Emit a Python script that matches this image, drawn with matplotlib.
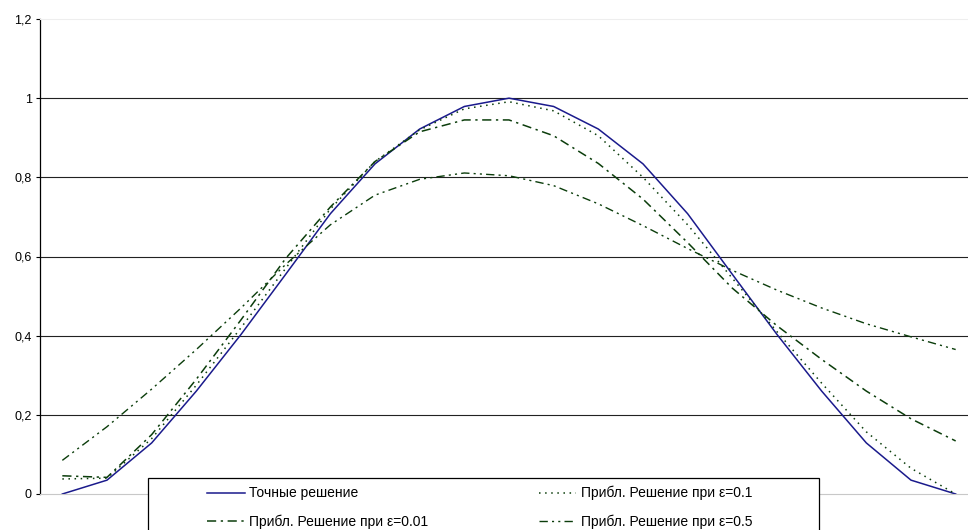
import matplotlib
matplotlib.use("Agg")
import matplotlib.pyplot as plt
from matplotlib.patches import Rectangle

plt.rcParams['font.family'] = ['Liberation Sans', 'DejaVu Sans']

# ---- data ----
x_points = list(range(21))
exact = [0.0, 0.035, 0.129, 0.26, 0.403, 0.555, 0.708, 0.834, 0.922, 0.979, 1.0,
         0.979, 0.922, 0.834, 0.708, 0.555, 0.403, 0.26, 0.129, 0.035, 0.0]
eps_0_1 = [0.038, 0.040, 0.14, 0.275, 0.42, 0.57, 0.72, 0.84, 0.92, 0.973, 0.991,
           0.968, 0.905, 0.80, 0.68, 0.545, 0.41, 0.28, 0.157, 0.065, 0.0]
eps_0_01 = [0.046, 0.042, 0.15, 0.29, 0.44, 0.595, 0.725, 0.84, 0.915, 0.945, 0.945,
            0.905, 0.835, 0.745, 0.635, 0.52, 0.425, 0.34, 0.26, 0.19, 0.134]
eps_0_5 = [0.085, 0.17, 0.265, 0.365, 0.47, 0.58, 0.68, 0.755, 0.795, 0.811, 0.804,
           0.779, 0.733, 0.678, 0.62, 0.565, 0.515, 0.47, 0.43, 0.397, 0.365]

labels = ["Точные решение", "Прибл. Решение при ε=0.1",
          "Прибл. Решение при ε=0.01", "Прибл. Решение при ε=0.5"]
y_ticks = [0, 0.2, 0.4, 0.6, 0.8, 1.0, 1.2]
y_tick_labels = ["0", "0,2", "0,4", "0,6", "0,8", "1", "1,2"]

W, H = 968, 530
fig = plt.figure(figsize=(W / 100, H / 100), dpi=100)
left, right, bottom, top = 40, 978, 494, 19
ax = fig.add_axes([left / W, 1 - bottom / H, (right - left) / W, (bottom - top) / H])

green = '#0b3d0b'
l_exact, = ax.plot(x_points, exact, color='#1a1a8c', lw=1.1, label=labels[0])
l_01, = ax.plot(x_points, eps_0_1, color=green, lw=1.1, ls=(0, (1, 3)), label=labels[1])
l_001, = ax.plot(x_points, eps_0_01, color=green, lw=1.1, ls=(0, (6, 3, 1.5, 3)), label=labels[2])
l_05, = ax.plot(x_points, eps_0_5, color=green, lw=1.0, ls=(0, (6, 3, 1.5, 3, 1.5, 3)), label=labels[3])

ax.set_xlim(-0.5, 20.5)
ax.set_ylim(0, 1.2)
ax.set_yticks(y_ticks)
ax.set_yticklabels(y_tick_labels, fontsize=9)
ax.set_xticks([])
for yv in y_ticks[1:-1]:
    ax.axhline(yv, color='#222222', lw=0.8, zorder=0)

ax.spines['right'].set_visible(False)
ax.spines['top'].set_color('#eeeeee')
ax.spines['bottom'].set_color('#c8c8c8')
ax.spines['left'].set_color('black')
ax.spines['left'].set_linewidth(0.9)
ax.tick_params(axis='y', direction='out', length=3, width=0.8, pad=3, colors='black')

# legend frame
fig.patches.append(Rectangle((148 / W, 1 - 545 / H), (819 - 148) / W, (545 - 478) / H,
                             transform=fig.transFigure, facecolor='white',
                             edgecolor='black', lw=0.9, zorder=5))
# column-wise fill: col 1 = exact, eps 0.01 ; col 2 = eps 0.1, eps 0.5
leg = fig.legend([l_exact, l_001, l_01, l_05],
                 [labels[0], labels[2], labels[1], labels[3]], ncol=2,
                 loc='upper left', bbox_to_anchor=(207 / W, 1 - 486 / H),
                 frameon=False, fontsize=10, handlelength=2.7, handletextpad=0.3,
                 columnspacing=8.0, labelspacing=1.0, borderpad=0, borderaxespad=0)
leg.set_zorder(6)

fig.savefig("out.png", dpi=100)
